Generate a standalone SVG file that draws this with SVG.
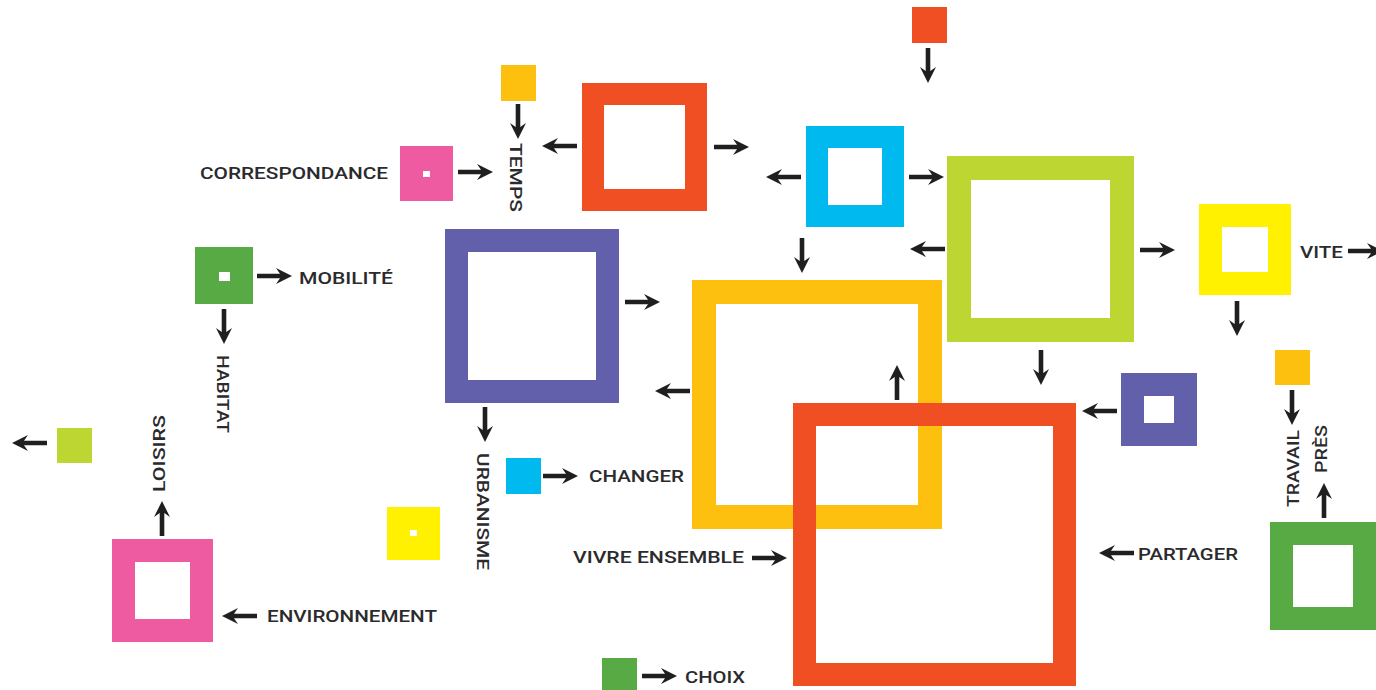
<svg xmlns="http://www.w3.org/2000/svg" xmlns:xlink="http://www.w3.org/1999/xlink" width="1376" height="690" viewBox="0 0 1376 690">
<style>
.lbl{font-family:Roboto,"Liberation Sans",sans-serif;font-size:16px;font-weight:500;fill:#2b2b2e}
.fr{fill:none}
.red{fill:#F04E23}.redS{stroke:#F04E23}
.amb{fill:#FDC00F}.ambS{stroke:#FDC00F}
.cya{fill:#00B9EE}.cyaS{stroke:#00B9EE}
.lim{fill:#BDD631}.limS{stroke:#BDD631}
.pur{fill:#6260AA}.purS{stroke:#6260AA}
.pnk{fill:#EF5BA1}.pnkS{stroke:#EF5BA1}
.grn{fill:#58AA45}.grnS{stroke:#58AA45}
.yel{fill:#FFF100}.yelS{stroke:#FFF100}
.dot{fill:#ffffff}
.arr{fill:#1f1f1f}
</style>
<defs>
<path id="arr" d="M0,-2.3 H23 L19,-8 L35,0 L19,8 L23,2.3 H0 Z"/>
</defs>
<rect width="1376" height="690" fill="#ffffff"/>

<g id="connectors" class="arr">
<use xlink:href="#arr" transform="translate(928,48) rotate(90)"/>
<use xlink:href="#arr" transform="translate(518,104) rotate(90)"/>
<use xlink:href="#arr" transform="translate(458,172)"/>
<use xlink:href="#arr" transform="translate(577,146) rotate(180)"/>
<use xlink:href="#arr" transform="translate(714,147)"/>
<use xlink:href="#arr" transform="translate(801,177) rotate(180)"/>
<use xlink:href="#arr" transform="translate(909,177)"/>
<use xlink:href="#arr" transform="translate(945,249) rotate(180)"/>
<use xlink:href="#arr" transform="translate(1140,250)"/>
<use xlink:href="#arr" transform="translate(1348,251)"/>
<use xlink:href="#arr" transform="translate(1237,301) rotate(90)"/>
<use xlink:href="#arr" transform="translate(802,238) rotate(90)"/>
<use xlink:href="#arr" transform="translate(625,302)"/>
<use xlink:href="#arr" transform="translate(1041,350) rotate(90)"/>
<use xlink:href="#arr" transform="translate(690,391) rotate(180)"/>
<use xlink:href="#arr" transform="translate(897,400) rotate(-90)"/>
<use xlink:href="#arr" transform="translate(1117,411) rotate(180)"/>
<use xlink:href="#arr" transform="translate(1292,390) rotate(90)"/>
<use xlink:href="#arr" transform="translate(1324,518) rotate(-90)"/>
<use xlink:href="#arr" transform="translate(485,407) rotate(90)"/>
<use xlink:href="#arr" transform="translate(224,309) rotate(90)"/>
<use xlink:href="#arr" transform="translate(257,276)"/>
<use xlink:href="#arr" transform="translate(543,476)"/>
<use xlink:href="#arr" transform="translate(47,443) rotate(180)"/>
<use xlink:href="#arr" transform="translate(162,536) rotate(-90)"/>
<use xlink:href="#arr" transform="translate(257,616) rotate(180)"/>
<use xlink:href="#arr" transform="translate(752,558)"/>
<use xlink:href="#arr" transform="translate(642,676)"/>
<use xlink:href="#arr" transform="translate(1134,553) rotate(180)"/>
</g>

<g id="node-red-top-small"><rect class="red" x="912" y="7" width="35" height="36"/></g>
<g id="node-amber-top-small"><rect class="amb" x="501" y="65" width="35" height="36"/></g>
<g id="node-pink-dot"><rect class="pnk" x="400" y="146" width="53" height="55"/><rect class="dot" x="423" y="171" width="7" height="6"/></g>
<g id="node-green-dot"><rect class="grn" x="195" y="247" width="58" height="57"/><rect class="dot" x="219" y="272" width="11" height="9"/></g>
<g id="node-red-frame"><rect class="fr redS" x="593" y="94" width="103" height="106" stroke-width="22"/></g>
<g id="node-cyan-frame"><rect class="fr cyaS" x="817" y="137" width="76" height="79" stroke-width="22"/></g>
<g id="node-lime-frame"><rect class="fr limS" x="959" y="168" width="163" height="162" stroke-width="24"/></g>
<g id="node-yellow-frame"><rect class="fr yelS" x="1210.5" y="215.5" width="69" height="68" stroke-width="23"/></g>
<g id="node-purple-frame"><rect class="fr purS" x="456.5" y="240.5" width="151" height="151" stroke-width="23"/></g>
<g id="node-amber-frame"><rect class="fr ambS" x="704" y="292" width="226" height="225" stroke-width="24"/></g>
<g id="node-red-big-frame"><rect class="fr redS" x="804.5" y="414.5" width="260" height="260" stroke-width="23"/></g>
<g id="node-purple-small-frame"><rect class="fr purS" x="1132.5" y="384.5" width="53" height="50" stroke-width="23"/></g>
<g id="node-green-frame"><rect class="fr grnS" x="1281.5" y="533.5" width="83" height="85" stroke-width="23"/></g>
<g id="node-pink-frame"><rect class="fr pnkS" x="123.5" y="550.5" width="78" height="80" stroke-width="23"/></g>
<g id="node-amber-small"><rect class="amb" x="1275" y="350" width="35" height="35"/></g>
<g id="node-lime-small"><rect class="lim" x="57" y="428" width="35" height="35"/></g>
<g id="node-cyan-small"><rect class="cya" x="506" y="458" width="35" height="36"/></g>
<g id="node-yellow-dot"><rect class="yel" x="387" y="507" width="53" height="53"/><rect class="dot" x="410" y="530" width="7" height="6"/></g>
<g id="node-green-small"><rect class="grn" x="602" y="658" width="35" height="34"/></g>

<g id="labels">
<text class="lbl" x="200" y="179" textLength="188" lengthAdjust="spacingAndGlyphs">CORRESPONDANCE</text>
<text class="lbl" x="299" y="284" textLength="94" lengthAdjust="spacingAndGlyphs">MOBILITÉ</text>
<text class="lbl" x="1300" y="258" textLength="43" lengthAdjust="spacingAndGlyphs">VITE</text>
<text class="lbl" x="589" y="482" textLength="95" lengthAdjust="spacingAndGlyphs">CHANGER</text>
<text class="lbl" x="573" y="563" textLength="171" lengthAdjust="spacingAndGlyphs">VIVRE ENSEMBLE</text>
<text class="lbl" x="1138" y="559.5" textLength="100" lengthAdjust="spacingAndGlyphs">PARTAGER</text>
<text class="lbl" x="267" y="622" textLength="170" lengthAdjust="spacingAndGlyphs">ENVIRONNEMENT</text>
<text class="lbl" x="685" y="683" textLength="60" lengthAdjust="spacingAndGlyphs">CHOIX</text>
<text class="lbl" transform="translate(510,143) rotate(90)" textLength="69" lengthAdjust="spacingAndGlyphs">TEMPS</text>
<text class="lbl" transform="translate(217,355) rotate(90)" textLength="78" lengthAdjust="spacingAndGlyphs">HABITAT</text>
<text class="lbl" transform="translate(477,453) rotate(90)" textLength="117" lengthAdjust="spacingAndGlyphs">URBANISME</text>
<text class="lbl" transform="translate(165,492) rotate(-90)" textLength="77" lengthAdjust="spacingAndGlyphs">LOISIRS</text>
<text class="lbl" transform="translate(1299,507) rotate(-90)" textLength="77" lengthAdjust="spacingAndGlyphs">TRAVAIL</text>
<text class="lbl" transform="translate(1327,473) rotate(-90)" textLength="48" lengthAdjust="spacingAndGlyphs">PRÈS</text>
</g>
</svg>
